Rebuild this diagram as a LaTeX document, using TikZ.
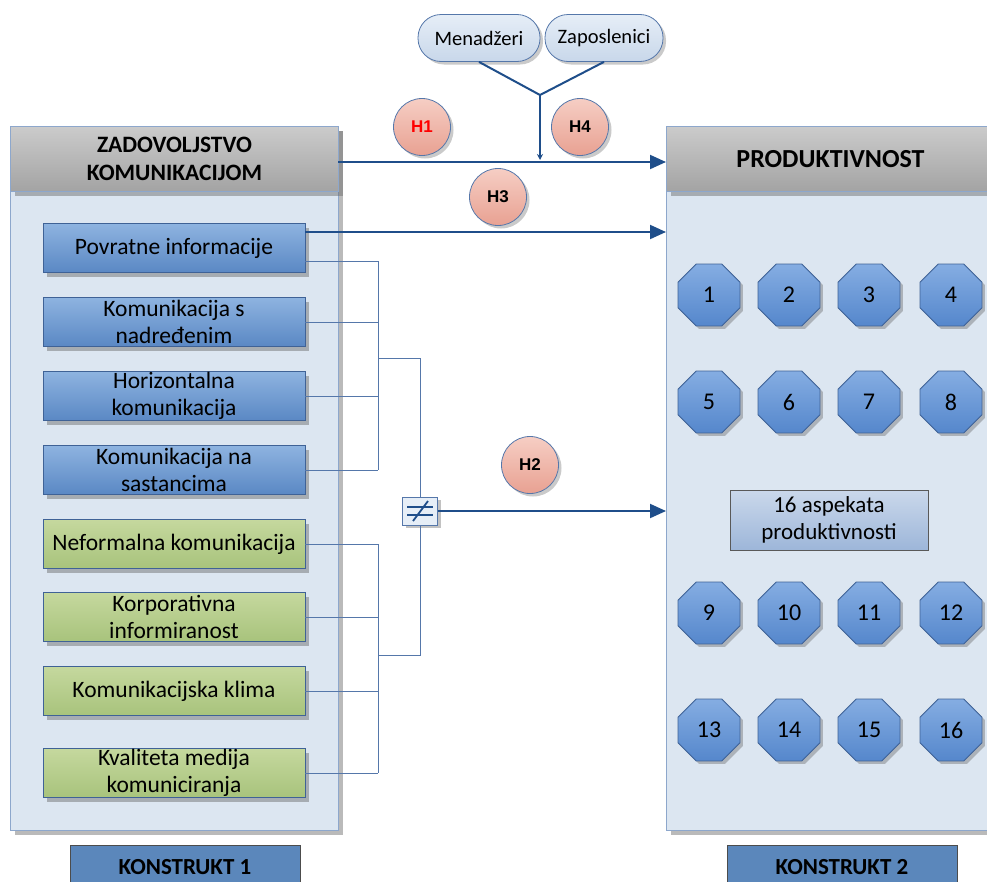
\documentclass[tikz,border=0pt]{standalone}
\usepackage{fontspec}
\setmainfont{Carlito}
\newfontfamily\arialf{Liberation Sans}
\usetikzlibrary{shapes.geometric,shadows,arrows.meta,calc}
\definecolor{panelfill}{HTML}{DCE6F1}
\definecolor{panelborder}{HTML}{8DA7CC}
\definecolor{lineblue}{HTML}{1F4E8A}
\definecolor{thinblue}{HTML}{5577AA}
\definecolor{boxborder}{HTML}{3F6296}
\definecolor{bluetop}{HTML}{8EB3E0}
\definecolor{bluebot}{HTML}{5A88C4}
\definecolor{greentop}{HTML}{C5D89E}
\definecolor{greenbot}{HTML}{A8C37C}
\definecolor{graytop}{HTML}{CBCBCB}
\definecolor{graybot}{HTML}{A3A3A3}
\definecolor{pinktop}{HTML}{F6CEC4}
\definecolor{pinkbot}{HTML}{E8A192}
\definecolor{pilltop}{HTML}{E6EEF7}
\definecolor{pillbot}{HTML}{C8D7EA}
\definecolor{konfill}{HTML}{5B87BB}
\definecolor{octtop}{HTML}{85ADE2}
\definecolor{octbot}{HTML}{5587CC}
\definecolor{asptop}{HTML}{CAD8EB}
\definecolor{aspbot}{HTML}{9DB6D9}
\tikzset{
  shad/.style={drop shadow={shadow xshift=4pt,shadow yshift=-4pt,opacity=0.45,fill=black!60}},
  panelbox/.style={draw=panelborder,fill=panelfill,line width=1pt,anchor=north west,shad},
  headerbox/.style={draw=panelborder,top color=graytop,bottom color=graybot,line width=1pt,anchor=north west,
     align=center,font=\bfseries\fontsize{23.5}{28}\selectfont,inner sep=0pt,shad},
  itembox/.style={draw=boxborder,line width=0.8pt,minimum width=262,minimum height=49,align=center,
     font=\fontsize{23.5}{26.5}\selectfont,inner sep=0pt,shad},
  bluebox/.style={itembox,top color=bluetop,bottom color=bluebot},
  greenbox/.style={itembox,top color=greentop,bottom color=greenbot},
  oct/.style={regular polygon,regular polygon sides=8,minimum size=67,inner sep=0pt,
     draw=boxborder,line width=0.8pt,top color=octtop,bottom color=octbot,font=\fontsize{24}{28}\selectfont,
     drop shadow={shadow xshift=3pt,shadow yshift=-3pt,opacity=0.4,fill=black!60}},
  hcirc/.style={circle,minimum size=57,inner sep=0pt,draw=thinblue,line width=0.8pt,top color=pinktop,bottom color=pinkbot,
     font=\arialf\bfseries\fontsize{17}{20}\selectfont,
     drop shadow={shadow xshift=3pt,shadow yshift=-3pt,opacity=0.35,fill=black!60}},
  pill/.style={rectangle,rounded corners=23,minimum height=47,inner sep=0pt,draw=thinblue,line width=0.8pt,
     top color=pilltop,bottom color=pillbot,font=\fontsize{20.5}{24}\selectfont,
     drop shadow={shadow xshift=3pt,shadow yshift=-3pt,opacity=0.35,fill=black!60}},
  konbox/.style={draw=black!70,fill=konfill,line width=0.8pt,minimum width=230,minimum height=44,
     font=\bfseries\fontsize{23}{26}\selectfont,anchor=north},
  conn/.style={draw=lineblue,line width=2pt},
  arr/.style={draw=lineblue,line width=2pt,-{Triangle[length=16pt,width=14pt]}},
  thin/.style={draw=thinblue,line width=0.9pt},
}
\begin{document}
\begin{tikzpicture}[x=1pt,y=-1pt]
\useasboundingbox (0,0) rectangle (987,881);
% panels
\node[panelbox,minimum width=328,minimum height=704] (lp) at (10,126) {};
\node[panelbox,minimum width=340,minimum height=704] (rp) at (666,126) {};
\node[headerbox,minimum width=328,minimum height=65] (lh) at (10,126) {ZADOVOLJSTVO\\KOMUNIKACIJOM};
\node[headerbox,minimum width=328,minimum height=65,font=\bfseries\fontsize{26}{30}\selectfont] (rh) at (666,126) {PRODUKTIVNOST};
% konstrukt labels
\node[konbox] (k1) at (185,845) {\raisebox{-1pt}{KONSTRUKT 1}};
\node[konbox] (k2) at (842,845) {\raisebox{-1pt}{KONSTRUKT 2}};
% left items
\node[bluebox] (b1) at (174,248) {Povratne informacije};
\node[bluebox] (b2) at (174,322) {Komunikacija s\\nadređenim};
\node[bluebox] (b3) at (174,396) {Horizontalna\\komunikacija};
\node[bluebox] (b4) at (174,470) {Komunikacija na\\sastancima};
\node[greenbox] (g1) at (174,544) {Neformalna komunikacija};
\node[greenbox] (g2) at (174,617) {Korporativna\\informiranost};
\node[greenbox] (g3) at (174,691) {Komunikacijska klima};
\node[greenbox] (g4) at (174,773) {Kvaliteta medija\\komuniciranja};
% octagons
\foreach \n/\x/\y in {1/709/295,2/789/295,3/869/295,4/951/295,
                     5/709/402,6/789/402,7/869/402,8/951/402,
                     9/709/613,10/789/613,11/869/613,12/951/613,
                     13/709/730,14/789/730,15/869/730,16/951/730}
  \node[oct] (o\n) at (\x,\y) {\n};
\node[draw=black!65,line width=0.8pt,top color=asptop,bottom color=aspbot,minimum width=198,minimum height=60,
  align=center,font=\fontsize{23}{27}\selectfont,inner sep=0pt] (asp) at (829,520) {16 aspekata\\produktivnosti};
% neq box
\node[draw=thinblue,line width=0.9pt,fill=pilltop,minimum width=35,minimum height=28,inner sep=0pt,
  drop shadow={shadow xshift=3pt,shadow yshift=-3pt,opacity=0.4,fill=black!60}] (ne) at (420,511) {};
\draw[lineblue,line width=1.8pt] ($(ne.center)+(-13,-4)$) -- ($(ne.center)+(13,-4)$);
\draw[lineblue,line width=1.8pt] ($(ne.center)+(-13,4)$) -- ($(ne.center)+(13,4)$);
\draw[lineblue,line width=1.8pt] ($(ne.center)+(-7,10)$) -- ($(ne.center)+(8,-10)$);
% bracket lines
\coordinate (vb) at (378,0);
\coordinate (p1) at ($(b1.east)+(0,13)$);
\draw[thin] (p1) -- (vb |- p1);
\foreach \b in {b2,b3,b4,g1,g2,g3,g4} \draw[thin] (\b.east) -- (vb |- \b.east);
\draw[thin] (vb |- p1) -- (vb |- b4.east);
\draw[thin] (vb |- g1.east) -- (vb |- g4.east);
\coordinate (mb) at (378,358);
\coordinate (mg) at (378,655);
\draw[thin] (mb) -- (ne.north |- mb) -- (ne.north);
\draw[thin] (mg) -- (ne.south |- mg) -- (ne.south);
% arrows
\draw[arr] (ne.east) -- (rp.west |- ne.east);
\coordinate (p3) at ($(b1.east)+(0,-16)$);
\draw[arr] (p3) -- (rp.west |- p3);
\coordinate (p0) at (338,162);
\draw[arr] (p0) -- (rp.west |- p0);
% top pills
\node[pill,minimum width=122] (men) at (479,38) {Menadžeri};
\node[pill,minimum width=118] (zap) at (604,38) {Zaposlenici};
\coordinate (j) at (540,95);
\coordinate (jt) at (540,160);
\draw[conn] (men.south) -- (j) -- (zap.south);
\draw[lineblue,line width=1.6pt,-{Stealth[length=6pt,width=6pt]}] (j) -- (jt);
% H circles
\node[hcirc] (h1) at (422,127) {\textcolor{red}{H1}};
\node[hcirc] (h4) at (580,127) {H4};
\node[hcirc] (h3) at (498,197) {H3};
\node[hcirc] (h2) at (530,465) {H2};
\end{tikzpicture}
\end{document}
